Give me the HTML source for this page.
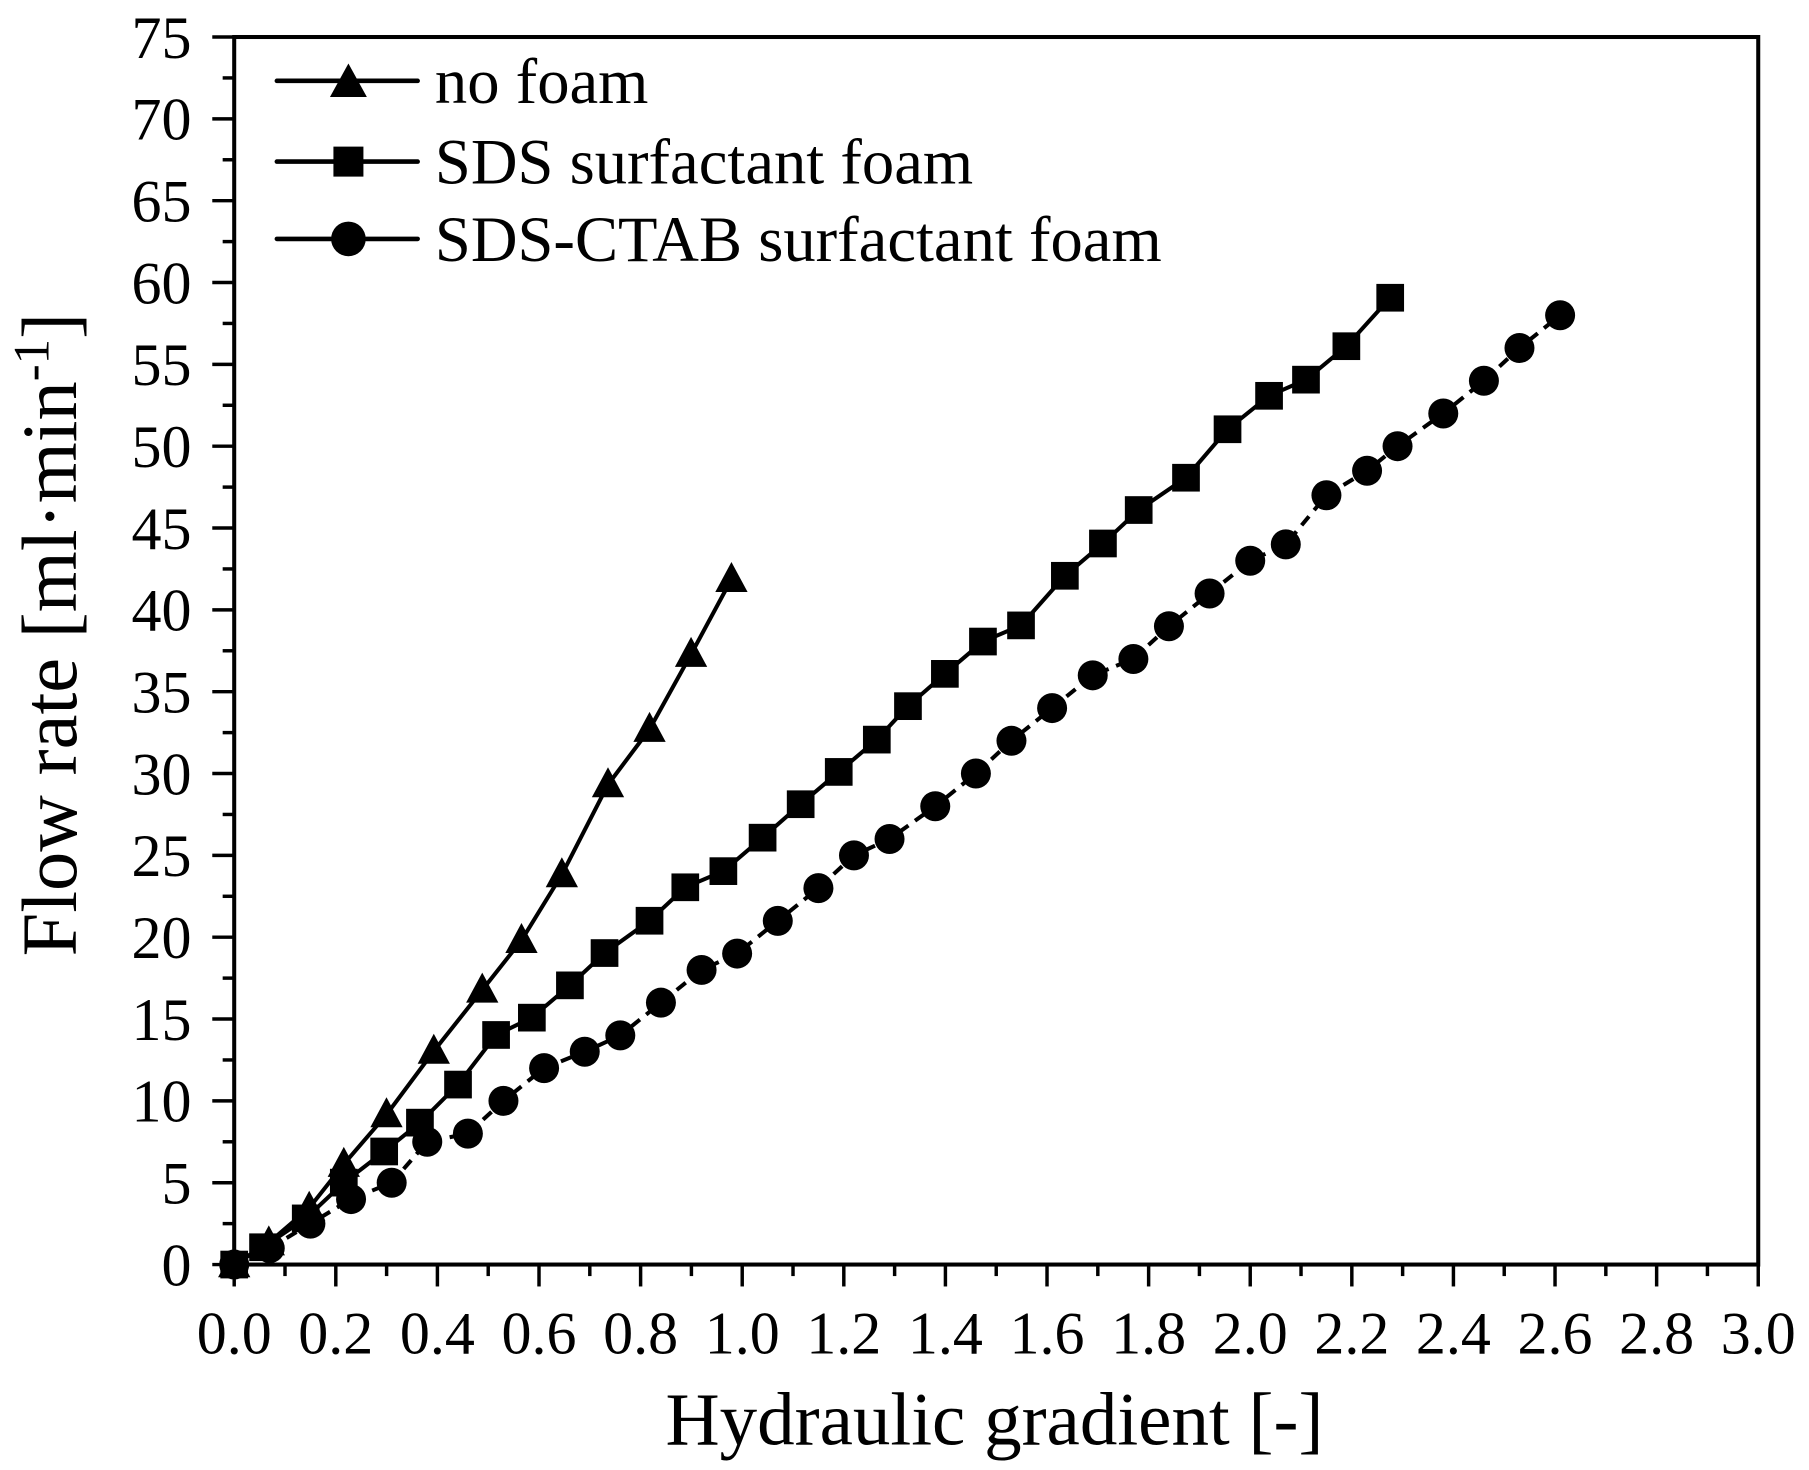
<!DOCTYPE html>
<html><head><style>html,body{margin:0;padding:0;background:#fff}svg{display:block}</style></head>
<body>
<svg width="1809" height="1470" viewBox="0 0 1568 1274" xmlns="http://www.w3.org/2000/svg" font-family="Liberation Serif, serif">
<rect width="1568" height="1274" fill="#fff"/>
<g stroke="#000" stroke-width="3.5" fill="none">
<rect x="203" y="32" width="1321" height="1064"/>
</g>
<g id="ticks" stroke="#000" stroke-width="3"></g>
<g font-size="52" text-anchor="end" id="ylab"></g>
<g font-size="52" text-anchor="middle" id="xlab"></g>
<text x="862" y="1252" font-size="65" text-anchor="middle">Hydraulic gradient [-]</text>
<text transform="translate(66,550) rotate(-90)" font-size="68" text-anchor="middle">Flow rate [ml·min<tspan dy="-24" font-size="44">-1</tspan><tspan dy="24">]</tspan></text>
<g stroke="#000" stroke-width="4" stroke-linecap="round">
<line x1="240" y1="70" x2="362" y2="70"/><line x1="240" y1="140" x2="362" y2="140"/><line x1="240" y1="207" x2="362" y2="207"/>
</g>
<polygon points="302,55 286,84 318,84" fill="#000"/>
<rect x="289" y="127" width="26" height="26" fill="#000"/>
<circle cx="302" cy="207" r="15" fill="#000"/>
<g font-size="56"><text x="377" y="89">no foam</text><text x="377" y="159">SDS surfactant foam</text><text x="377" y="226">SDS-CTAB surfactant foam</text></g>
<g id="data"></g>
</svg>
<script>
var ns="http://www.w3.org/2000/svg";function el(p,t,a,txt){var e=document.createElementNS(ns,t);for(var k in a)e.setAttribute(k,a[k]);if(txt!=null)e.textContent=txt;document.getElementById(p).appendChild(e);return e;}
var x0=203,y0=1096,ytop=32,xs=1321/3,ys=(y0-ytop)/75;
for(var i=0;i<=30;i++){var x=x0+i*0.1*xs,maj=i%2==0;el("ticks","line",{x1:x,y1:y0,x2:x,y2:y0+(maj?19:10)});if(maj)el("xlab","text",{x:x,y:1173},(i/10).toFixed(1));}
for(var j=0;j<=30;j++){var y=y0-j*2.5*ys,maj=j%2==0;el("ticks","line",{x1:x0,y1:y,x2:x0-(maj?19:10),y2:y});if(maj)el("ylab","text",{x:166,y:y+18},String(j*2.5));}
var tri=[[203,1096],[233,1077],[268,1047],[298,1009],[335,966],[376,911],[418,858],[452,815],[487,758],[527,680],[563,632],[599,567],[634,502]];
var sq=[[203,1096],[228,1081],[265,1056],[298,1025],[333,998],[364,973],[397,940],[430,897],[461,882],[494,854],[524,826],[563,798],[594,769],[627,755],[661,726],[694,697],[727,669],[760,641],[787,612],[819,584],[852,556],[885,542],[923,499],[956,471],[987,442],[1028,414],[1064,372],[1100,343],[1132,329],[1167,300],[1205,258]];
var cd=[[0,0],[0.07,1],[0.15,2.5],[0.23,4],[0.31,5],[0.38,7.5],[0.46,8],[0.53,10],[0.61,12],[0.69,13],[0.76,14],[0.84,16],[0.92,18],[0.99,19],[1.07,21],[1.15,23],[1.22,25],[1.29,26],[1.38,28],[1.46,30],[1.53,32],[1.61,34],[1.69,36],[1.77,37],[1.84,39],[1.92,41],[2.0,43],[2.07,44],[2.15,47],[2.23,48.5],[2.29,50],[2.38,52],[2.46,54],[2.53,56],[2.61,58]];
var ci=cd.map(p=>[x0+p[0]*xs,y0-p[1]*ys]);
function pl(a,d){el("data","polyline",{points:a.map(p=>p.join(",")).join(" "),fill:"none",stroke:"#000","stroke-width":3.5,"stroke-dasharray":d||""});}
pl(ci,"10,7");pl(sq);pl(tri);
ci.forEach(p=>el("data","circle",{cx:p[0],cy:p[1],r:13}));
sq.forEach(p=>el("data","rect",{x:p[0]-12,y:p[1]-12,width:24,height:24}));
tri.forEach(p=>el("data","polygon",{points:(p[0])+","+(p[1]-15)+" "+(p[0]-14)+","+(p[1]+11)+" "+(p[0]+14)+","+(p[1]+11)}));
</script>
</body></html>
